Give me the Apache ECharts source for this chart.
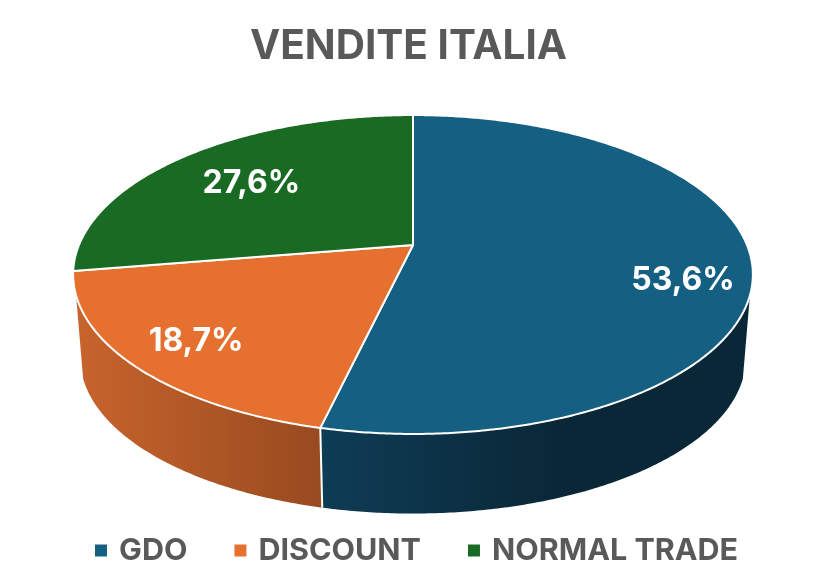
<!DOCTYPE html>
<html>
<head>
<meta charset="utf-8">
<style>html,body{margin:0;padding:0;background:#fff}#c{width:823px;height:580px}</style>
<script src="https://cdn.jsdelivr.net/npm/echarts@6/dist/echarts.min.js"></script>
</head>
<body>
<div id="c"></div>
<script>
const categories = ['GDO', 'DISCOUNT', 'NORMAL TRADE'];
const values = [53.6, 18.7, 27.6];
const titleText = 'VENDITE ITALIA';

const palette = ['#156082', '#E67030', '#196B24'];
const sideStops = [
  [[0, '#0E3C55'], [1, '#0A2737']],
  [[0, '#C8642C'], [1, '#984A20']],
  [[0, '#196B24'], [1, '#196B24']]
];
const sideSpan = [[322, 560], [75, 322], [75, 322]];
const labelLayout = [{r: 0.8, dx: 0, dy: 21}, {r: 0.8, dx: 0, dy: 3}, {r: 0.7, dx: 3, dy: 3}];
const FONT = 'Inter';

// Perspective projection of the tilted disc
const K = 0.185;
const topDisc = {cx: 413, cy: 245, a: 334, b: 154};
const bottomDisc = {cx: 413, cy: 329.5, a: 327, b: 150};
const WALL_FROM = 108, WALL_TO = 252;

function project(d, deg, r) {
  const t = deg * Math.PI / 180;
  const u = r * Math.sin(t), v = r * Math.cos(t), w = 1 + K * v;
  return [d.cx + d.a * u / w, d.cy - d.b * v / w];
}
function arc(d, from, to) {
  const pts = [], n = Math.max(2, Math.ceil(Math.abs(to - from) * 2));
  for (let i = 0; i <= n; i++) pts.push(project(d, from + (to - from) * i / n, 1));
  return pts;
}
const total = values.reduce((a, b) => a + b, 0);

function sliceRenderer(i) {
  return function (params, api) {
    const before = values.slice(0, i).reduce((a, b) => a + b, 0);
    const start = before / total * 360;
    const end = (before + api.value(0)) / total * 360;
    const children = [];
    const w0 = Math.max(start, WALL_FROM), w1 = Math.min(end, WALL_TO);
    if (w1 > w0) {
      children.push({
        type: 'polygon',
        shape: {points: arc(topDisc, w0, w1).concat(arc(bottomDisc, w1, w0))},
        style: {
          fill: {
            type: 'linear', global: true,
            x: sideSpan[i][0], y: 0, x2: sideSpan[i][1], y2: 0,
            colorStops: sideStops[i].map(s => ({offset: s[0], color: s[1]}))
          }
        }
      });
      if (w0 === start) {
        children.push({
          type: 'line',
          shape: (function () {
            const a = project(topDisc, w0, 1), b = project(bottomDisc, w0, 1);
            return {x1: a[0], y1: a[1], x2: b[0], y2: b[1]};
          })(),
          style: {stroke: '#fff', lineWidth: 2}
        });
      }
    }
    children.push({
      type: 'polygon',
      shape: {points: [project(topDisc, 0, 0)].concat(arc(topDisc, start, end))},
      style: {fill: palette[i], stroke: '#fff', lineWidth: 2, lineJoin: 'round'}
    });
    const mid = (start + end) / 2, L = labelLayout[i];
    const p = project(topDisc, mid, L.r);
    children.push({
      type: 'text',
      x: p[0] + L.dx, y: p[1] + L.dy,
      style: {
        text: api.value(0).toFixed(1).replace('.', ',') + '%',
        fill: '#fff', font: 'bold 32px ' + FONT,
        align: 'center', verticalAlign: 'middle'
      },
      z2: 10
    });
    return {type: 'group', children: children};
  };
}

const chart = echarts.init(document.getElementById('c'), null, {renderer: 'canvas'});
chart.setOption({
  animation: false,
  color: palette,
  title: {
    text: titleText, left: 245, top: 21,
    textStyle: {color: '#595959', fontFamily: FONT, fontWeight: 'bold', fontSize: 40.5}
  },
  legend: {
    data: categories, left: 90, top: 530, icon: 'rect',
    itemWidth: 12, itemHeight: 12, itemGap: 47,
    textStyle: {color: '#595959', fontFamily: FONT, fontWeight: 'bold', fontSize: 30.5, padding: [0, 0, 0, 7]}
  },
  series: categories.map((name, i) => ({
    type: 'custom',
    name: name,
    coordinateSystem: 'none',
    data: [[values[i]]],
    renderItem: sliceRenderer(i),
    itemStyle: {color: palette[i]}
  }))
});
</script>
</body>
</html>
